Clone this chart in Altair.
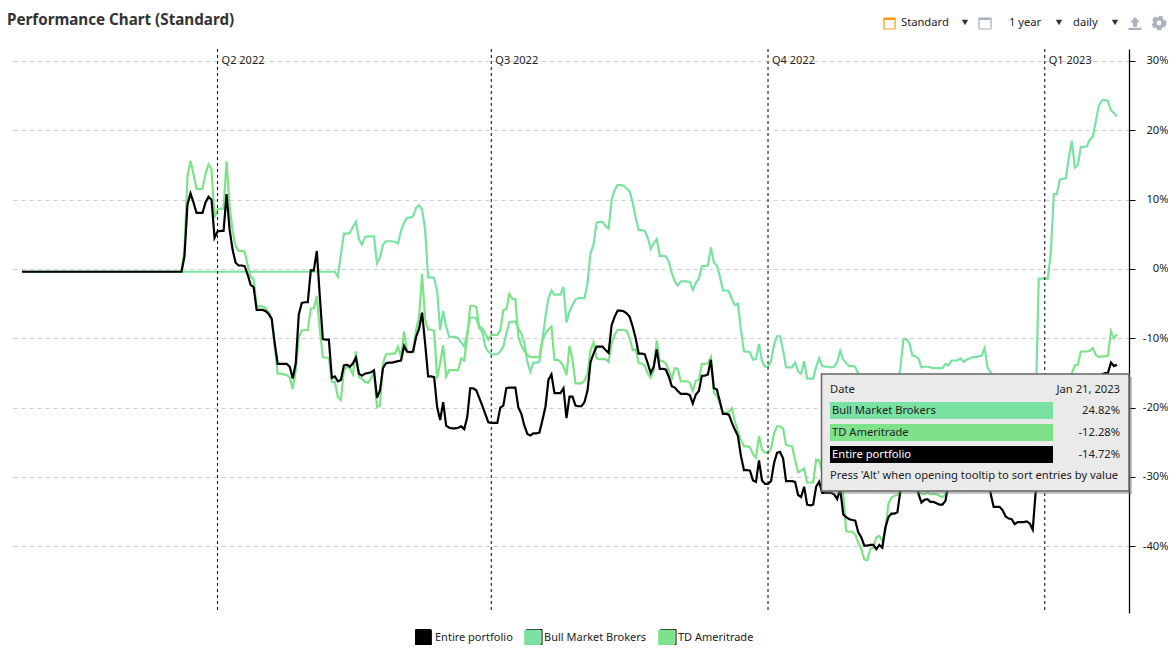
import altair as alt
import pandas as pd

SERIES = ["Entire portfolio", "Bull Market Brokers", "TD Ameritrade"]
COLORS = ["#000000", "#79E2A2", "#7DE28A"]
FIRST_DAY = -65      # days relative to 2022-04-01
DAILY_FROM = -12

ENTIRE = [
 -0.4,1.8,9.3,10.9,9.6,8.1,8.1,8.1,9.6,10.4,10.0,4.5,
 5.4,5.5,5.5,10.8,5.7,2.8,0.9,0.5,0.5,0.4,
 -0.8,-2.3,-2.6,-5.9,-5.9,-5.9,-6.1,-6.5,-7.2,-10.7,
 -13.7,-13.7,-13.7,-13.7,-14.1,-15.8,-13.6,-6.6,-4.9,-4.8,
 -4.8,-0.2,-0.2,2.6,-4.0,-10.1,-10.2,-10.2,-15.7,-15.5,
 -16.2,-16.0,-13.9,-13.8,-14.1,-13.6,-12.8,-15.1,-15.4,-15.1,
 -15.0,-14.9,-14.6,-18.6,-17.5,-14.3,-13.6,-13.5,-13.5,-13.4,
 -13.3,-13.2,-11.1,-11.9,-12.0,-11.9,-9.8,-8.6,-6.3,-10.7,
 -15.5,-15.5,-15.6,-19.9,-21.8,-19.2,-22.6,-22.9,-23.0,-23.0,
 -22.9,-22.7,-23.1,-21.4,-17.2,-17.2,-17.5,-18.6,-19.7,-20.9,
 -22.1,-22.2,-22.2,-22.2,-20.0,-19.7,-17.2,-17.1,-17.1,-17.1,
 -20.0,-20.9,-22.6,-23.8,-24.0,-23.7,-23.7,-23.6,-21.8,-19.9,
 -16.0,-15.2,-17.9,-17.9,-17.9,-17.2,-21.5,-18.4,-18.4,-19.7,
 -19.8,-19.8,-19.2,-17.5,-13.4,-12.2,-11.2,-11.2,-11.2,-11.7,
 -12.1,-8.1,-6.9,-6.0,-6.0,-6.1,-6.4,-6.9,-8.3,-10.0,
 -12.2,-12.2,-12.3,-13.6,-15.0,-14.1,-11.6,-14.4,-14.4,-14.5,
 -15.5,-16.9,-17.1,-17.6,-18.0,-18.0,-18.0,-18.2,-19.4,-18.1,
 -17.6,-15.4,-15.4,-15.2,-13.1,-17.2,-17.4,-19.1,-20.9,-20.9,
 -21.0,-22.2,-23.2,-24.1,-27.0,-29.0,-29.0,-29.1,-30.5,-30.7,
 -27.6,-30.5,-31.0,-31.0,-30.6,-28.0,-26.5,-26.4,-27.3,-30.6,
 -30.6,-30.6,-30.7,-32.6,-32.9,-31.4,-34.0,-34.1,-34.0,-31.4,
 -30.7,-32.3,-32.3,-32.3,-32.3,-32.5,-33.2,-31.7,-35.4,-35.8,
 -36.1,-36.2,-36.3,-38.0,-38.7,-39.9,-39.9,-39.8,-39.8,-40.4,
 -39.8,-40.2,-37.3,-35.8,-35.3,-35.3,-35.1,-32.0,-30.0,-27.5,
 -27.0,-27.5,-30.0,-32.4,-33.7,-33.3,-33.2,-33.6,-33.6,-33.8,
 -34.0,-34.0,-33.4,-31.0,-29.0,-28.0,-27.5,-27.5,-27.0,-27.0,
 -27.0,-26.5,-26.5,-26.0,-25.5,-25.5,-28.0,-32.4,-34.3,-34.3,
 -34.3,-34.8,-35.7,-36.0,-36.1,-36.8,-36.5,-36.5,-36.5,-36.4,
 -36.7,-37.6,-32.0,-24.0,-23.0,-23.0,-23.0,-22.0,-21.0,-20.0,
 -19.0,-19.0,-18.0,-18.0,-19.0,-18.0,-17.0,-17.0,-17.0,-16.0,
 -16.0,-16.0,-16.0,-15.5,-15.2,-15.0,-15.0,-13.5,-14.0,-13.8,
]

BULL = [
 -0.4,-0.4,-0.4,-0.4,-0.4,-0.4,-0.4,-0.4,-0.4,-0.4,-0.4,-0.4,
 -0.4,-0.4,-0.4,-0.4,-0.4,-0.4,-0.4,-0.4,-0.4,-0.4,
 -0.4,-0.4,-0.4,-0.4,-0.4,-0.4,-0.4,-0.4,-0.4,-0.4,
 -0.4,-0.4,-0.4,-0.4,-0.4,-0.4,-0.4,-0.4,-0.4,-0.4,
 -0.4,-0.4,-0.4,-0.4,-0.4,-0.4,-0.4,-0.4,-0.4,-0.4,
 -1.1,2.1,5.1,5.1,5.2,6.1,6.8,4.3,3.5,4.6,
 4.7,4.7,4.7,0.8,1.6,3.5,4.0,4.0,4.0,3.9,
 3.7,5.5,6.7,7.4,7.4,7.6,8.8,9.2,8.6,5.7,
 -1.2,-1.2,-1.3,-3.2,-8.8,-6.1,-8.3,-9.8,-9.8,-9.8,
 -10.0,-10.6,-11.2,-9.3,-7.0,-7.0,-7.1,-8.5,-9.1,-11.2,
 -11.9,-12.3,-12.3,-12.3,-11.9,-11.2,-9.3,-7.7,-7.6,-7.6,
 -8.6,-9.3,-10.7,-13.4,-14.8,-13.5,-13.5,-13.4,-10.2,-6.9,
 -4.2,-3.1,-3.7,-3.7,-3.7,-2.6,-7.7,-6.1,-5.2,-4.4,
 -4.2,-4.2,-4.2,-2.0,2.3,3.5,6.7,6.8,6.8,6.2,
 5.8,10.0,11.4,12.1,12.1,12.0,11.6,11.2,9.6,7.4,
 5.6,5.6,5.5,4.5,2.9,3.7,4.3,1.9,1.9,1.8,
 1.1,-0.6,-1.8,-2.4,-1.8,-1.8,-1.8,-1.9,-3.0,-2.0,
 -1.4,0.4,0.4,0.5,3.1,0.9,0.5,-1.1,-3.1,-3.1,
 -3.2,-4.4,-5.2,-5.0,-8.8,-11.9,-11.9,-12.0,-13.1,-13.0,
 -10.8,-13.3,-14.1,-14.1,-13.3,-10.9,-9.7,-9.7,-11.7,-14.2,
 -14.2,-14.2,-13.5,-14.8,-15.1,-13.3,-15.8,-15.8,-15.8,-14.1,
 -12.9,-14.0,-14.1,-14.1,-14.2,-14.1,-13.4,-11.8,-13.1,-13.6,
 -14.0,-14.0,-14.1,-15.1,-16.0,-17.0,-17.5,-18.0,-18.0,-18.0,
 -18.0,-18.0,-18.0,-17.5,-17.0,-17.0,-16.5,-14.3,-10.2,-10.1,
 -10.7,-12.5,-12.6,-12.9,-14.2,-14.1,-14.1,-14.2,-14.3,-14.3,
 -14.3,-14.3,-13.7,-13.9,-13.2,-13.2,-13.2,-12.9,-13.4,-13.1,
 -12.9,-12.7,-12.7,-12.6,-12.5,-11.4,-14.3,-14.9,-16.0,-17.0,
 -17.5,-18.0,-18.0,-18.0,-18.0,-18.0,-18.0,-18.0,-18.0,-18.0,
 -18.0,-18.0,-19.0,-1.4,-1.4,-1.4,-1.4,2.3,10.8,10.8,
 12.9,13.0,13.1,16.1,18.5,14.6,15.0,17.6,17.6,17.7,
 18.7,19.1,21.4,23.6,24.3,24.4,24.2,22.9,22.5,22.0,
]

TD = [
 -0.4,2.8,13.4,15.6,13.7,11.6,11.5,11.6,13.7,15.1,14.4,7.4,
 8.6,8.7,8.7,15.5,9.1,5.5,3.3,2.6,2.6,2.5,
 0.6,-1.1,-1.5,-5.4,-5.4,-5.4,-5.7,-6.2,-7.1,-11.2,
 -15.1,-15.1,-15.2,-15.3,-15.6,-17.3,-14.6,-9.8,-8.9,-8.8,
 -8.8,-5.7,-5.7,-3.9,-8.8,-12.7,-12.8,-12.8,-16.3,-16.3,
 -18.5,-18.9,-14.6,-14.1,-14.3,-15.2,-11.9,-15.6,-15.8,-16.3,
 -16.4,-15.8,-14.8,-19.9,-19.7,-13.6,-12.3,-12.3,-12.2,-12.2,
 -11.2,-12.7,-9.0,-12.0,-12.0,-12.0,-8.8,-6.9,-0.7,-7.3,
 -8.7,-8.8,-8.9,-15.8,-13.6,-11.0,-15.5,-14.6,-14.6,-14.6,
 -14.6,-12.9,-13.2,-9.8,-5.3,-5.3,-5.5,-8.3,-8.6,-9.3,
 -10.2,-9.5,-9.5,-9.5,-8.8,-5.9,-5.8,-3.6,-4.3,-4.3,
 -9.8,-11.0,-11.9,-12.4,-12.7,-12.7,-12.7,-12.7,-10.2,-9.3,
 -8.7,-8.3,-13.1,-13.1,-13.4,-14.1,-15.3,-11.1,-13.1,-16.5,
 -16.5,-16.5,-16.1,-15.1,-11.7,-10.6,-12.9,-13.0,-13.0,-13.0,
 -13.4,-10.7,-9.5,-8.8,-8.8,-8.8,-8.9,-10.0,-11.7,-11.6,
 -13.6,-13.6,-13.9,-15.1,-15.7,-14.6,-10.3,-13.3,-13.3,-13.6,
 -14.6,-15.8,-14.3,-14.4,-16.2,-16.2,-16.2,-16.4,-17.6,-16.1,
 -16.0,-13.7,-13.7,-13.6,-12.7,-17.9,-18.3,-19.4,-20.7,-20.7,
 -20.6,-20.1,-22.0,-23.5,-24.7,-25.6,-25.6,-25.7,-26.7,-27.2,
 -24.1,-26.1,-26.5,-26.5,-25.9,-23.7,-22.7,-22.7,-23.0,-25.4,
 -25.5,-25.6,-27.6,-29.3,-29.1,-28.8,-30.8,-30.8,-30.8,-27.5,
 -27.6,-29.3,-29.5,-30.0,-30.0,-30.0,-31.0,-30.0,-32.5,-37.8,
 -37.9,-37.9,-38.3,-39.5,-40.4,-41.9,-42.0,-40.4,-40.2,-38.7,
 -38.5,-39.2,-37.8,-33.9,-33.0,-32.7,-32.6,-32.2,-29.0,-27.0,
 -26.0,-26.0,-29.0,-32.2,-32.4,-32.5,-32.2,-32.5,-32.4,-32.5,
 -32.7,-32.9,-32.5,-30.0,-28.0,-27.0,-26.5,-26.5,-26.0,-26.0,
 -26.0,-25.5,-25.5,-25.0,-24.5,-24.5,-26.0,-29.0,-30.0,-30.0,
 -30.0,-30.5,-31.0,-31.0,-31.0,-31.0,-31.0,-31.0,-31.0,-31.0,
 -31.0,-31.0,-29.0,-24.0,-22.0,-22.0,-22.0,-21.0,-20.0,-19.0,
 -18.0,-17.5,-17.0,-16.0,-15.1,-13.9,-13.8,-11.9,-11.9,-11.9,
 -11.8,-11.4,-12.4,-12.7,-12.6,-12.6,-12.5,-9.0,-10.0,-9.4,
]

QUARTER_DATES = ["2022-04-01", "2022-07-01", "2022-10-01", "2023-01-01"]
QUARTER_LABELS = ["Q2 2022", "Q3 2022", "Q4 2022", "Q1 2023"]
Y_TICKS = [30, 20, 10, 0, -10, -20, -30, -40]
TIP_DATE = "Jan 21, 2023"
TIP_NAMES = ["Bull Market Brokers", "TD Ameritrade", "Entire portfolio"]
TIP_VALUES = ["24.82%", "-12.28%", "-14.72%"]

FONT = "Noto Sans"
ORIGIN = pd.Timestamp("2022-04-01")


def to_date(day):
    return (ORIGIN + pd.Timedelta(days=day)).strftime("%Y-%m-%d")


rows = []
for name, vals in [(SERIES[1], BULL), (SERIES[2], TD), (SERIES[0], ENTIRE)]:
    rows.append({"date": to_date(FIRST_DAY), "series": name, "value": vals[0]})
    for i, v in enumerate(vals):
        rows.append({"date": to_date(DAILY_FROM + i), "series": name, "value": v})
df = pd.DataFrame(rows)

x_scale = alt.Scale(domain=["2022-01-23", "2023-01-29"])
y_scale = alt.Scale(domain=[-49.62, 31.73], nice=False, zero=False)
color_scale = alt.Scale(domain=SERIES, range=COLORS)

# plot area sits at page (13, 49)
OX, OY = 13, 49
ONE = pd.DataFrame({"k": [0]})


def text(px, py, s, color="#222222", size=11.2, align="left", weight="normal"):
    return alt.Chart(ONE).mark_text(
        align=align, baseline="middle", font=FONT, fontSize=size,
        color=color, fontWeight=weight, clip=False,
    ).encode(x=alt.value(px - OX), y=alt.value(py - OY), text=alt.value(s))


def box(x1, y1, x2, y2, fill=None, stroke=None, sw=1, opacity=1):
    kw = {"fill": fill if fill else "transparent"}
    if stroke:
        kw.update(stroke=stroke, strokeWidth=sw)
    return alt.Chart(ONE).mark_rect(opacity=opacity, clip=False, **kw).encode(
        x=alt.value(x1 - OX), x2=alt.value(x2 - OX),
        y=alt.value(y1 - OY), y2=alt.value(y2 - OY),
    )


def glyph(px, py, shape, size, fill="#333333"):
    return alt.Chart(ONE).mark_point(
        shape=shape, size=size, filled=True, fill=fill, opacity=1, stroke=fill, strokeWidth=0,
    ).encode(x=alt.value(px - OX), y=alt.value(py - OY))


base_y = alt.Y(
    "value:Q", scale=y_scale, title=None,
    axis=alt.Axis(
        orient="right", values=Y_TICKS, labelExpr="datum.value + '%'",
        grid=True, gridColor="#cfcfcf", gridDash=[4, 4], gridWidth=1,
        domainColor="#000000", domainWidth=1.3, tickColor="#000000", tickSize=6,
        labelAlign="right", labelPadding=33, labelColor="#222222",
        labelFont=FONT, labelFontSize=11.2,
    ),
)

the_legend = alt.Legend(
    orient="none", legendX=415 - OX, legendY=629 - OY, direction="horizontal",
    columns=3, symbolType="square", symbolSize=240, symbolStrokeColor="#000000",
    symbolStrokeWidth=1, symbolOpacity=1, labelFont=FONT, labelFontSize=11,
    labelColor="#222222", labelOffset=3, columnPadding=9, padding=0, title=None,
)

# Dummy points outside the x domain: they give the legend its square, filled symbols
legend_src = pd.DataFrame({"date": ["2021-01-01"] * 3, "series": SERIES, "value": [0, 0, 0]})
legend_layer = alt.Chart(legend_src).mark_square(filled=True, clip=True).encode(
    x=alt.X("date:T", scale=x_scale, axis=None),
    y=base_y,
    color=alt.Color("series:N", scale=color_scale, title=None, legend=the_legend),
)

lines = alt.Chart(df).mark_line(strokeWidth=2.2, clip=True).encode(
    x=alt.X("date:T", scale=x_scale, axis=None),
    y=base_y,
    color=alt.Color("series:N", scale=color_scale, title=None, legend=the_legend),
    detail="series:N",
)

quarters = pd.DataFrame({"date": QUARTER_DATES, "label": QUARTER_LABELS})
rules = alt.Chart(quarters).mark_rule(color="#000000", strokeDash=[3, 3], strokeWidth=1).encode(
    x=alt.X("date:T", scale=x_scale, axis=None)
)
qlabels = alt.Chart(quarters).mark_text(
    align="left", baseline="middle", dx=4, font=FONT, fontSize=11, color="#222222"
).encode(
    x=alt.X("date:T", scale=x_scale, axis=None),
    y=alt.value(61 - OY),
    text="label:N",
)

layers = [legend_layer, lines, rules, qlabels]

# black outlines of the legend swatches
layers += [
    box(415.5, 629.5, 431, 644.5, stroke="#000000", sw=1),
    box(526.5, 629.5, 542, 644.5, stroke="#000000", sw=1),
    box(660.5, 629.5, 676, 644.5, stroke="#000000", sw=1),
]

# header
layers.append(text(7, 20, "Performance Chart (Standard)", color="#333333", size=15.2, weight="bold"))
layers += [
    box(884, 18, 895, 29, stroke="#F59A12", sw=1.2),
    box(884, 18, 895, 20, fill="#F59A12"),
    text(901, 23, "Standard"),
    glyph(965, 22.5, "triangle-down", 40),
    box(979, 18, 991, 29, stroke="#A8B2BC", sw=1.2),
    box(979, 18, 991, 20, fill="#A8B2BC"),
    text(1009, 23, "1 year"),
    glyph(1059, 22.5, "triangle-down", 40),
    text(1073, 23, "daily"),
    glyph(1115, 22.5, "triangle-down", 40),
    glyph(1135, 23.5, "M0,-1 L0.75,-0.2 L0.32,-0.2 L0.32,0.5 L-0.32,0.5 L-0.32,-0.2 L-0.75,-0.2 Z "
                      "M-1,0.65 L1,0.65 L1,1 L-1,1 Z", 170, fill="#A9B3BD"),
    alt.Chart(ONE).mark_point(shape="circle", size=70, filled=False, stroke="#A9B3BD",
                              strokeWidth=3.5, opacity=1).encode(
        x=alt.value(1159 - OX), y=alt.value(23 - OY)),
    alt.Chart(ONE).mark_point(shape="circle", size=150, filled=False, stroke="#A9B3BD",
                              strokeWidth=2.5, strokeDash=[4, 3], opacity=1).encode(
        x=alt.value(1159 - OX), y=alt.value(23 - OY)),
]

# hover box
layers += [
    box(824, 377, 1132, 494, fill="#777777", opacity=0.45),
    box(821.5, 374, 1129, 491, fill="#EAEAEA", stroke="#666666", sw=1.5),
    text(830, 390, "Date"),
    text(1120, 390, TIP_DATE, align="right"),
]
for i, (n, v, c, tc) in enumerate(zip(TIP_NAMES, TIP_VALUES,
                                      [COLORS[1], COLORS[2], COLORS[0]],
                                      ["#222222", "#222222", "#FFFFFF"])):
    top = 402 + i * 22
    layers += [
        box(830, top, 1053, top + 17, fill=c),
        text(832, top + 9, n, color=tc),
        text(1120, top + 9, v, align="right"),
    ]
layers.append(text(830, 476, "Press 'Alt' when opening tooltip to sort entries by value"))

chart = alt.layer(*layers).properties(
    width=1116,
    height=564,
    padding={"left": 5, "top": 41, "right": 39, "bottom": 32},
    autosize=alt.AutoSizeParams(type="none"),
    background="#FFFFFF",
).configure_view(strokeWidth=0)

chart.save("out.html", embed_options={"renderer": "svg", "actions": False})
